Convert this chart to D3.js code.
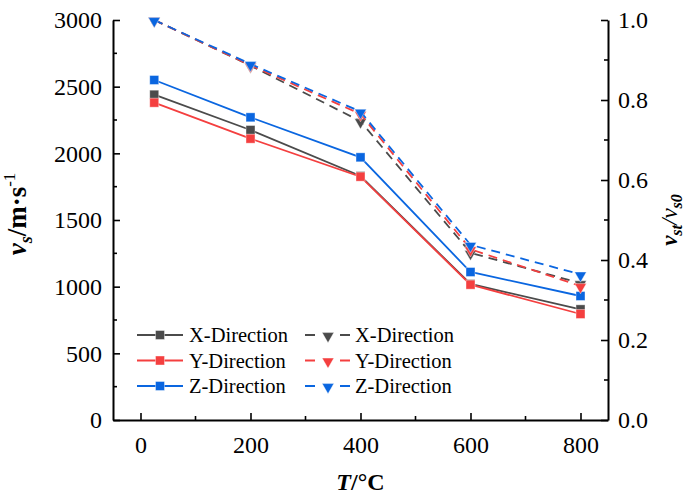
<!DOCTYPE html>
<html>
<head>
<meta charset="utf-8">
<script src="https://cdn.jsdelivr.net/npm/d3@7/dist/d3.min.js"></script>
<style>
  html, body { margin: 0; padding: 0; background: #fff; }
  svg, svg text { font-family: "Liberation Serif", "Times New Roman", serif; }
</style>
</head>
<body>
<svg id="chart" width="686" height="495"></svg>
<script>
// Temperature (°C)
const temps = [25, 200, 400, 600, 800];

// Shear wave velocity v_s (m/s)
const velX = [2440, 2175, 1830, 1020, 830];
const velY = [2380, 2110, 1825, 1015, 795];
const velZ = [2550, 2270, 1970, 1110, 930];

// Velocity ratio v_st / v_s0
const ratioX = [1.0, 0.886, 0.747, 0.418, 0.342];
const ratioY = [1.0, 0.887, 0.765, 0.427, 0.335];
const ratioZ = [1.0, 0.890, 0.771, 0.438, 0.364];

const seriesNames = ["X-Direction", "Y-Direction", "Z-Direction"];
const seriesColors = ["#4b4b4b", "#f43f3f", "#0a66e0"];

const xTicks = [0, 200, 400, 600, 800];
const yLeftTicks = [0, 500, 1000, 1500, 2000, 2500, 3000];
const yRightTicks = [0, 0.2, 0.4, 0.6, 0.8, 1.0];

const FONT = "'Liberation Serif', 'Times New Roman', serif";
const svg = d3.select("#chart").attr("font-family", FONT);
const L = 113, R = 608, T = 20, B = 420;

const x = d3.scaleLinear().domain([-50, 850]).range([L, R]);
const yL = d3.scaleLinear().domain([0, 3000]).range([B, T]);
const yR = d3.scaleLinear().domain([0, 1]).range([B, T]);

const tickFont = "24px";

// Bottom axis
const xAxis = d3.axisBottom(x).tickValues(xTicks).tickFormat(d3.format("d"))
  .tickSizeInner(-7).tickSizeOuter(0).tickPadding(16);
const gx = svg.append("g").attr("transform", `translate(0,${B})`).call(xAxis);
svg.append("g").selectAll("line")
  .data([100, 300, 500, 700])
  .join("line")
  .attr("x1", d => x(d)).attr("x2", d => x(d))
  .attr("y1", B).attr("y2", B - 4)
  .attr("stroke", "#000").attr("stroke-width", 1.6);

// Left axis
const yAxisL = d3.axisLeft(yL).tickValues(yLeftTicks).tickFormat(d3.format("d"))
  .tickSizeInner(-7).tickSizeOuter(0).tickPadding(11);
const gyl = svg.append("g").attr("transform", `translate(${L},0)`).call(yAxisL);
svg.append("g").selectAll("line")
  .data([250, 750, 1250, 1750, 2250, 2750])
  .join("line")
  .attr("x1", L).attr("x2", L + 4)
  .attr("y1", d => yL(d)).attr("y2", d => yL(d))
  .attr("stroke", "#000").attr("stroke-width", 1.6);

// Right axis
const yAxisR = d3.axisRight(yR).tickValues(yRightTicks).tickFormat(d3.format(".1f"))
  .tickSizeInner(-7).tickSizeOuter(0).tickPadding(10);
const gyr = svg.append("g").attr("transform", `translate(${R},0)`).call(yAxisR);
svg.append("g").selectAll("line")
  .data([0.1, 0.3, 0.5, 0.7, 0.9])
  .join("line")
  .attr("x1", R).attr("x2", R - 4)
  .attr("y1", d => yR(d)).attr("y2", d => yR(d))
  .attr("stroke", "#000").attr("stroke-width", 1.6);

[gx, gyl, gyr].forEach(g => {
  g.attr("font-family", FONT).attr("font-size", tickFont);
  g.select(".domain").attr("stroke", "#000").attr("stroke-width", 2);
  g.selectAll(".tick line").attr("stroke", "#000").attr("stroke-width", 1.6);
  g.selectAll(".tick text").attr("fill", "#000");
});

// Axis titles
const xt = svg.append("text")
  .attr("x", (L + R) / 2).attr("y", 490)
  .attr("text-anchor", "middle")
  .attr("font-size", 24).attr("font-weight", "bold");
xt.append("tspan").attr("font-style", "italic").text("T");
xt.append("tspan").text("/°C");

const lt = svg.append("text")
  .attr("transform", "translate(26,214) rotate(-90)")
  .attr("text-anchor", "middle")
  .attr("font-size", 27).attr("font-weight", "bold");
lt.append("tspan").attr("font-style", "italic").text("v");
lt.append("tspan").attr("font-style", "italic").attr("font-size", 18).attr("dy", 6).text("s");
lt.append("tspan").attr("dy", -6).text("/m·s");
lt.append("tspan").attr("font-size", 17).attr("font-weight", "normal").attr("dy", -11).text("-1");

const rt = svg.append("text")
  .attr("transform", "translate(677,220) rotate(-90)")
  .attr("text-anchor", "middle")
  .attr("font-size", 23).attr("font-weight", "bold").attr("font-style", "italic");
rt.append("tspan").text("v");
rt.append("tspan").attr("font-size", 16).attr("dy", 5).text("st");
rt.append("tspan").attr("font-weight", "normal").attr("dy", -5).text("/v");
rt.append("tspan").attr("font-size", 16).attr("dy", 5).text("s0");

// Series
const velSets = [velX, velY, velZ];
const ratioSets = [ratioX, ratioY, ratioZ];

const solidLine = d3.line().x((d, i) => x(temps[i])).y(d => yL(d));
const dashLine = d3.line().x((d, i) => x(temps[i])).y(d => yR(d));

const tri = d3.symbol().type(d3.symbolTriangle).size(60);

function drawSquare(g, cx, cy, color, s = 9) {
  g.append("rect")
    .attr("x", cx - s / 2).attr("y", cy - s / 2)
    .attr("width", s).attr("height", s)
    .attr("fill", color).attr("stroke", "#fff").attr("stroke-opacity", 0.5).attr("stroke-width", 0.8);
}
function drawTri(g, cx, cy, color) {
  g.append("path")
    .attr("d", tri())
    .attr("transform", `translate(${cx},${cy + 1}) rotate(180)`)
    .attr("fill", color).attr("stroke", "#fff").attr("stroke-opacity", 0.5).attr("stroke-width", 0.8);
}

// Solid velocity curves
velSets.forEach((vals, k) => {
  const g = svg.append("g");
  g.append("path").datum(vals)
    .attr("d", solidLine).attr("fill", "none")
    .attr("stroke", seriesColors[k]).attr("stroke-width", 1.8);
  vals.forEach((v, i) => drawSquare(g, x(temps[i]), yL(v), seriesColors[k]));
});

// Dashed ratio curves
ratioSets.forEach((vals, k) => {
  const g = svg.append("g");
  g.append("path").datum(vals)
    .attr("d", dashLine).attr("fill", "none")
    .attr("stroke", seriesColors[k]).attr("stroke-width", 1.8)
    .attr("stroke-dasharray", "9,6");
  vals.forEach((v, i) => drawTri(g, x(temps[i]), yR(v), seriesColors[k]));
});

// Legend
const legendRows = [335, 360.5, 386];
const lg = svg.append("g").attr("font-size", 20.5);
seriesNames.forEach((name, k) => {
  const y = legendRows[k];
  lg.append("line").attr("x1", 137).attr("x2", 183).attr("y1", y).attr("y2", y)
    .attr("stroke", seriesColors[k]).attr("stroke-width", 1.8);
  drawSquare(lg, 160, y, seriesColors[k]);
  lg.append("text").attr("x", 189).attr("y", y).attr("dy", "0.35em").text(name);

  lg.append("line").attr("x1", 305).attr("x2", 350).attr("y1", y).attr("y2", y)
    .attr("stroke", seriesColors[k]).attr("stroke-width", 1.8)
    .attr("stroke-dasharray", "10,25,10");
  drawTri(lg, 328, y, seriesColors[k]);
  lg.append("text").attr("x", 355).attr("y", y).attr("dy", "0.35em").text(name);
});
</script>
</body>
</html>
